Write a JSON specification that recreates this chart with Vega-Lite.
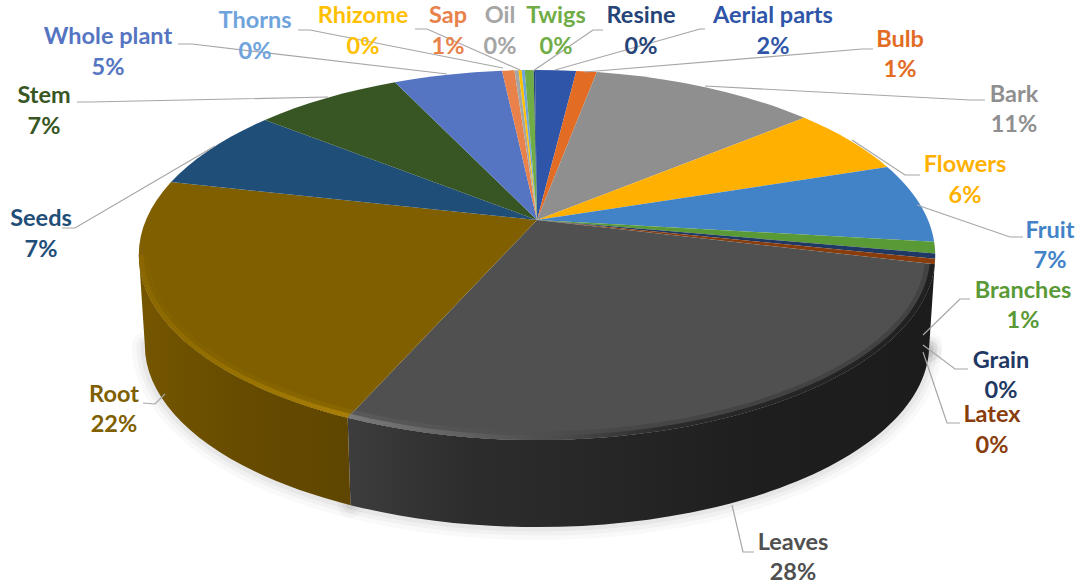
{
"$schema":"https://vega.github.io/schema/vega-lite/v6.json",
"width":1079,"height":587,"autosize":{"type":"none"},"padding":0,"background":"white",
"config":{"view":{"stroke":null}},
"data":{"values":[
{"part":"Aerial parts","order":1,"value":2.0},
{"part":"Bulb","order":2,"value":1.0},
{"part":"Bark","order":3,"value":11.0},
{"part":"Flowers","order":4,"value":6.0},
{"part":"Fruit","order":5,"value":7.0},
{"part":"Branches","order":6,"value":1.0},
{"part":"Grain","order":7,"value":0.45},
{"part":"Latex","order":8,"value":0.45},
{"part":"Leaves","order":9,"value":27.75},
{"part":"Root","order":10,"value":22.0},
{"part":"Seeds","order":11,"value":7.25},
{"part":"Stem","order":12,"value":7.2},
{"part":"Whole plant","order":13,"value":5.3},
{"part":"Sap","order":14,"value":0.6},
{"part":"Oil","order":15,"value":0.2},
{"part":"Rhizome","order":16,"value":0.15},
{"part":"Thorns","order":17,"value":0.15},
{"part":"Twigs","order":18,"value":0.43},
{"part":"Resine","order":19,"value":0.07}
]},
"transform":[
{"stack":"value","groupby":[],"sort":[{"field":"order","order":"ascending"}],"as":["c0","c1"]},
{"joinaggregate":[{"op":"sum","field":"value","as":"total"}]},
{"calculate":"datum.c0/datum.total*2*PI-0.006","as":"a1"},
{"calculate":"datum.c1/datum.total*2*PI-0.006","as":"a2"},
{"calculate":"537+391*sin(datum.a1)/(1+0.1892*cos(datum.a1))","as":"x1"},
{"calculate":"220-178.4*cos(datum.a1)/(1+0.1892*cos(datum.a1))","as":"y1"},
{"calculate":"537+391*sin(datum.a2)/(1+0.1892*cos(datum.a2))","as":"x2"},
{"calculate":"220-178.4*cos(datum.a2)/(1+0.1892*cos(datum.a2))","as":"y2"},
{"calculate":"'M537 220L'+format(datum.x1,'.2f')+' '+format(datum.y1,'.2f')+'A398 185 0 0 1 '+format(datum.x2,'.2f')+' '+format(datum.y2,'.2f')+'Z'","as":"topPath"},
{"calculate":"max(datum.a1,1.761)","as":"w1"},
{"calculate":"min(datum.a2,4.522)","as":"w2"},
{"calculate":"537+391*sin(datum.w1)/(1+0.1892*cos(datum.w1))","as":"wx1"},
{"calculate":"220-178.4*cos(datum.w1)/(1+0.1892*cos(datum.w1))","as":"wy1"},
{"calculate":"537+391*sin(datum.w2)/(1+0.1892*cos(datum.w2))","as":"wx2"},
{"calculate":"220-178.4*cos(datum.w2)/(1+0.1892*cos(datum.w2))","as":"wy2"},
{"calculate":"format(537+(datum.wx1-537)*392/398,'.2f')+' '+format(345+(datum.wy1-255)*182/185,'.2f')","as":"b1"},
{"calculate":"format(537+(datum.wx2-537)*392/398,'.2f')+' '+format(345+(datum.wy2-255)*182/185,'.2f')","as":"b2"},
{"calculate":"'M'+format(datum.wx1,'.2f')+' '+format(datum.wy1,'.2f')+'A398 185 0 0 1 '+format(datum.wx2,'.2f')+' '+format(datum.wy2,'.2f')+'L'+datum.b2+'A392 182 0 0 0 '+datum.b1+'Z'","as":"wallPath"},
{"calculate":"'M'+datum.b1+'A392 182 0 0 1 '+datum.b2","as":"shadowPath"},
{"calculate":"'M'+format(datum.wx1,'.2f')+' '+format(datum.wy1,'.2f')+'A398 185 0 0 1 '+format(datum.wx2,'.2f')+' '+format(datum.wy2,'.2f')+'L'+format(537+(datum.wx2-537)*393/398,'.2f')+' '+format(255+(datum.wy2-255)*180.5/185,'.2f')+'A393 180.5 0 0 0 '+format(537+(datum.wx1-537)*393/398,'.2f')+' '+format(255+(datum.wy1-255)*180.5/185,'.2f')+'Z'","as":"rimA"},
{"calculate":"'M'+format(datum.wx1,'.2f')+' '+format(datum.wy1,'.2f')+'A398 185 0 0 1 '+format(datum.wx2,'.2f')+' '+format(datum.wy2,'.2f')+'L'+format(537+(datum.wx2-537)*388/398,'.2f')+' '+format(255+(datum.wy2-255)*176/185,'.2f')+'A388 176 0 0 0 '+format(537+(datum.wx1-537)*388/398,'.2f')+' '+format(255+(datum.wy1-255)*176/185,'.2f')+'Z'","as":"rimB"},
{"calculate":"{'Whole plant':'M178 44L192 44L447 74','Thorns':'M298 30L310 30L503 68','Rhizome':'M415 29L427 29L520 70','Resine':'M603 30L593 30L533 71','Aerial parts':'M705 29L700 29L555 70','Bulb':'M873 49L862 49L585 72','Stem':'M77 102L90 102L328 97','Seeds':'M62 228L75 228L215 146','Root':'M143 403L155 404L165 394','Bark':'M985 100L970 100L705 86','Flowers':'M920 175L905 175L852 140','Fruit':'M1023 237L1010 237L917 205','Branches':'M970 299L960 299L923 335','Grain':'M968 369L955 369L923 345','Latex':'M960 423L947 423L923 352','Leaves':'M754 552L743 552L732 505'}[datum.part]||''","as":"leader"},
{"calculate":"{'Thorns':[255,21,52],'Rhizome':[363,16,47],'Sap':[448,16,47],'Oil':[500,16,47],'Twigs':[556,16,47],'Resine':[641,16,47],'Aerial parts':[773,16,47],'Bulb':[900,40,70],'Whole plant':[108,37,68],'Stem':[44,96,127],'Seeds':[41,219,250],'Root':[114,395,425],'Bark':[1014,95,125],'Flowers':[965,165,196],'Fruit':[1050,231,261],'Branches':[1023,291,321],'Grain':[1001,361,391],'Latex':[992,415,446],'Leaves':[793,543,573]}[datum.part]","as":"lp"},
{"calculate":"datum.lp[0]","as":"lx"},
{"calculate":"datum.lp[1]","as":"ly"},
{"calculate":"datum.lp[2]","as":"py"},
{"calculate":"format(datum.value/datum.total,'.0%')","as":"pct"}
],
"layer":[
{"transform":[{"filter":"datum.w1<datum.w2"}],"mark":{"type":"point","filled":false,"size":4,"opacity":1,"stroke":"#000000","strokeOpacity":0.025,"strokeWidth":26,"strokeCap":"round","fill":null},"encoding":{"x":{"datum":0,"type":"quantitative","scale":{"domain":[0,1079],"nice":false,"zero":false},"axis":null},"y":{"datum":0,"type":"quantitative","scale":{"domain":[587,0],"nice":false,"zero":false},"axis":null},"shape":{"field":"shadowPath","type":"nominal","scale":null,"legend":null}}},
{"transform":[{"filter":"datum.w1<datum.w2"}],"mark":{"type":"point","filled":false,"size":4,"opacity":1,"stroke":"#000000","strokeOpacity":0.03,"strokeWidth":17,"strokeCap":"round","fill":null},"encoding":{"x":{"datum":0,"type":"quantitative","axis":null},"y":{"datum":0,"type":"quantitative","axis":null},"shape":{"field":"shadowPath","type":"nominal","scale":null,"legend":null}}},
{"transform":[{"filter":"datum.w1<datum.w2"}],"mark":{"type":"point","filled":false,"size":4,"opacity":1,"stroke":"#000000","strokeOpacity":0.04,"strokeWidth":9,"strokeCap":"round","fill":null},"encoding":{"x":{"datum":0,"type":"quantitative","axis":null},"y":{"datum":0,"type":"quantitative","axis":null},"shape":{"field":"shadowPath","type":"nominal","scale":null,"legend":null}}},
{"transform":[{"filter":"datum.part==='Leaves'"}],"mark":{"type":"point","filled":true,"size":4,"opacity":1,"fill":{"gradient":"linear","x1":0,"y1":0,"x2":1,"y2":0,"stops":[{"offset":0,"color":"#3d3d3d"},{"offset":0.2,"color":"#2d2d2d"},{"offset":0.45,"color":"#262626"},{"offset":0.7,"color":"#1e1e1e"},{"offset":1,"color":"#1c1c1c"}]}},"encoding":{"x":{"datum":0,"type":"quantitative","axis":null},"y":{"datum":0,"type":"quantitative","axis":null},"shape":{"field":"wallPath","type":"nominal","scale":null,"legend":null}}},
{"transform":[{"filter":"datum.part==='Root'"}],"mark":{"type":"point","filled":true,"size":4,"opacity":1,"fill":{"gradient":"linear","x1":0,"y1":0,"x2":1,"y2":0,"stops":[{"offset":0,"color":"#755600"},{"offset":0.5,"color":"#664b00"},{"offset":1,"color":"#5f4600"}]}},"encoding":{"x":{"datum":0,"type":"quantitative","axis":null},"y":{"datum":0,"type":"quantitative","axis":null},"shape":{"field":"wallPath","type":"nominal","scale":null,"legend":null}}},
{"mark":{"type":"point","filled":true,"size":4,"opacity":1},"encoding":{"x":{"datum":0,"type":"quantitative","axis":null},"y":{"datum":0,"type":"quantitative","axis":null},"shape":{"field":"topPath","type":"nominal","scale":null,"legend":null},"fill":{"field":"part","type":"nominal","legend":null,"scale":{"domain":["Aerial parts","Bulb","Bark","Flowers","Fruit","Branches","Grain","Latex","Leaves","Root","Seeds","Stem","Whole plant","Sap","Oil","Rhizome","Thorns","Twigs","Resine"],"range":["#2f55a8","#e36c24","#8f8f8f","#ffb000","#4283c8","#5a9a36","#1f3864","#8a3d0c","#505050","#7f5f00","#1f4e79","#375623","#5575c2","#e8814a","#a5a5a5","#ffc000","#6fa3dc","#70ad47","#264478"]}}}},
{"transform":[{"filter":"datum.part==='Leaves'"}],"mark":{"type":"point","filled":true,"size":4,"opacity":0.35,"fill":{"gradient":"linear","x1":0,"y1":0,"x2":1,"y2":0,"stops":[{"offset":0,"color":"#6a6a6a"},{"offset":0.3,"color":"#505050"},{"offset":0.45,"color":"#3a3a3a"},{"offset":0.7,"color":"#2a2a2a"},{"offset":1,"color":"#2a2a2a"}]}},"encoding":{"x":{"datum":0,"type":"quantitative","axis":null},"y":{"datum":0,"type":"quantitative","axis":null},"shape":{"field":"rimB","type":"nominal","scale":null,"legend":null}}},
{"transform":[{"filter":"datum.part==='Leaves'"}],"mark":{"type":"point","filled":true,"size":4,"opacity":1,"fill":{"gradient":"linear","x1":0,"y1":0,"x2":1,"y2":0,"stops":[{"offset":0,"color":"#7a7a7a"},{"offset":0.2,"color":"#606060"},{"offset":0.38,"color":"#484848"},{"offset":0.55,"color":"#2a2a2a"},{"offset":1,"color":"#202020"}]}},"encoding":{"x":{"datum":0,"type":"quantitative","axis":null},"y":{"datum":0,"type":"quantitative","axis":null},"shape":{"field":"rimA","type":"nominal","scale":null,"legend":null}}},
{"transform":[{"filter":"datum.part==='Root'"}],"mark":{"type":"point","filled":true,"size":4,"opacity":0.45,"fill":{"gradient":"linear","x1":0,"y1":0,"x2":1,"y2":0,"stops":[{"offset":0,"color":"#846300"},{"offset":1,"color":"#947000"}]}},"encoding":{"x":{"datum":0,"type":"quantitative","axis":null},"y":{"datum":0,"type":"quantitative","axis":null},"shape":{"field":"rimB","type":"nominal","scale":null,"legend":null}}},
{"transform":[{"filter":"datum.part==='Root'"}],"mark":{"type":"point","filled":true,"size":4,"opacity":1,"fill":{"gradient":"linear","x1":0,"y1":0,"x2":1,"y2":0,"stops":[{"offset":0,"color":"#8a6700"},{"offset":0.5,"color":"#987200"},{"offset":1,"color":"#a87e08"}]}},"encoding":{"x":{"datum":0,"type":"quantitative","axis":null},"y":{"datum":0,"type":"quantitative","axis":null},"shape":{"field":"rimA","type":"nominal","scale":null,"legend":null}}},
{"transform":[{"filter":"datum.leader!==''"}],"mark":{"type":"point","filled":false,"size":4,"opacity":1,"stroke":"#a6a6a6","strokeWidth":1.2},"encoding":{"x":{"datum":0,"type":"quantitative","axis":null},"y":{"datum":0,"type":"quantitative","axis":null},"shape":{"field":"leader","type":"nominal","scale":null,"legend":null}}},
{"mark":{"type":"text","font":"Lato","fontWeight":"bold","fontSize":23.5,"align":"center","baseline":"middle"},"encoding":{"x":{"field":"lx","type":"quantitative","axis":null},"y":{"field":"ly","type":"quantitative","axis":null},"text":{"field":"part","type":"nominal"},"fill":{"field":"part","type":"nominal","legend":null}}},
{"mark":{"type":"text","font":"Lato","fontWeight":"bold","fontSize":23.5,"align":"center","baseline":"middle"},"encoding":{"x":{"field":"lx","type":"quantitative","axis":null},"y":{"field":"py","type":"quantitative","axis":null},"text":{"field":"pct","type":"nominal"},"fill":{"field":"part","type":"nominal","legend":null}}}
]
}
